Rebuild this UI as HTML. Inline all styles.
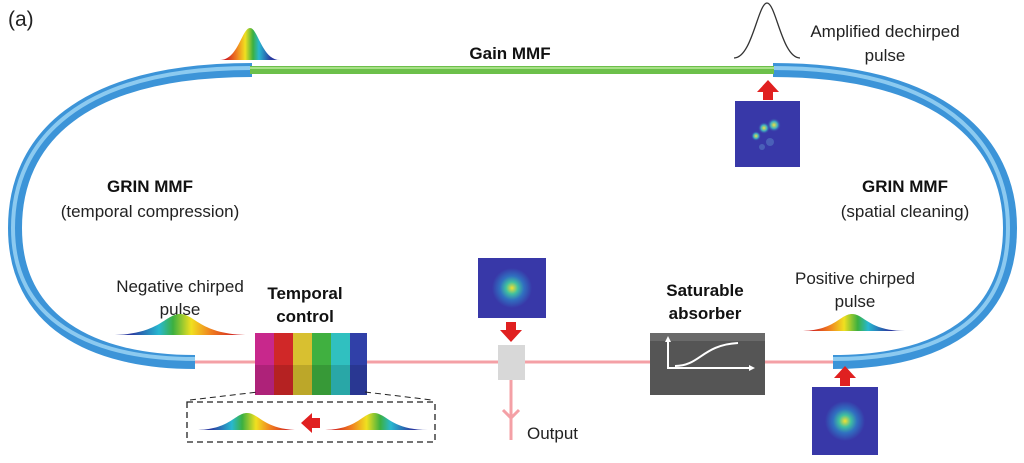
<!DOCTYPE html>
<html><head><meta charset="utf-8"><style>
html,body{margin:0;padding:0;background:#fff;}
svg{display:block;font-family:"Liberation Sans",sans-serif;}
</style></head><body>
<svg width="1024" height="463" viewBox="0 0 1024 463">
<defs>
<linearGradient id="neg" x1="0" x2="1" y1="0" y2="0">
<stop offset="0.15" stop-color="#2a3aa0"/><stop offset="0.35" stop-color="#28b8d0"/><stop offset="0.45" stop-color="#3cb040"/><stop offset="0.58" stop-color="#f0e020"/><stop offset="0.72" stop-color="#f08020"/><stop offset="0.9" stop-color="#d02020"/></linearGradient>
<linearGradient id="pos" x1="0" x2="1" y1="0" y2="0">
<stop offset="0.1" stop-color="#d02020"/><stop offset="0.28" stop-color="#f08020"/><stop offset="0.42" stop-color="#f0e020"/><stop offset="0.55" stop-color="#3cb040"/><stop offset="0.65" stop-color="#28b8d0"/><stop offset="0.85" stop-color="#2a3aa0"/></linearGradient>
<radialGradient id="mode"><stop offset="0" stop-color="#f5e030"/><stop offset="0.3" stop-color="#40c0a0"/><stop offset="0.6" stop-color="#3070c0"/><stop offset="1" stop-color="#3838a8"/></radialGradient>
<radialGradient id="spot"><stop offset="0" stop-color="#f0e040"/><stop offset="0.5" stop-color="#40b0c0"/><stop offset="1" stop-color="#3838a8" stop-opacity="0"/></radialGradient>
</defs>
<text x="8" y="26" font-size="21" fill="#222">(a)</text>
<g>
<path d="M252,70 C80,70 15,140 15,228 C15,320 90,362 195,362" fill="none" stroke="#3c94d8" stroke-width="14"/>
<path d="M252,68 C80,68 13,140 13,228 C13,320 90,359 195,359" fill="none" stroke="#8ccaf0" stroke-width="4"/>
<path d="M773,70 C940,70 1010,140 1010,228 C1010,320 940,362 833,362" fill="none" stroke="#3c94d8" stroke-width="14"/>
<path d="M773,68 C940,68 1008,140 1008,228 C1008,320 940,359 833,359" fill="none" stroke="#8ccaf0" stroke-width="4"/>
<rect x="250" y="66" width="524" height="8" fill="#6cc04a"/>
<rect x="250" y="67" width="524" height="2" fill="#a8e088"/>
</g>
<line x1="195" y1="362" x2="833" y2="362" stroke="#f4a0a6" stroke-width="3"/>
<line x1="511" y1="362" x2="511" y2="440" stroke="#f4a0a6" stroke-width="3"/>
<path d="M503,410 L511,418 L519,410" fill="none" stroke="#f4a0a6" stroke-width="3"/>
<text x="527" y="439" font-size="17" fill="#222">Output</text>
<rect x="498" y="345" width="27" height="35" fill="#d8d8d8"/>
<g>
<rect x="255" y="333" width="19" height="62" fill="#c8288c"/><rect x="274" y="333" width="19" height="62" fill="#d02828"/><rect x="293" y="333" width="19" height="62" fill="#d8c030"/><rect x="312" y="333" width="19" height="62" fill="#40b040"/><rect x="331" y="333" width="19" height="62" fill="#30c0c0"/><rect x="350" y="333" width="17" height="62" fill="#3040a8"/>
<rect x="255" y="365" width="112" height="30" fill="#000" opacity="0.13"/>
</g>
<text x="305" y="299" font-size="17" font-weight="bold" text-anchor="middle" fill="#111"><tspan x="305">Temporal</tspan><tspan x="305" dy="23">control</tspan></text>
<g>
<rect x="650" y="333" width="115" height="62" fill="#555"/><rect x="650" y="333" width="115" height="8" fill="#6a6a6a"/>
<path d="M668,339 L668,368 L752,368" fill="none" stroke="#fff" stroke-width="2"/>
<path d="M668,336 l-3,6 h6z M755,368 l-6,-3 v6z" fill="#fff"/>
<path d="M675,366 C700,366 702,345 738,343" fill="none" stroke="#fff" stroke-width="2"/>
</g>
<text x="705" y="296" font-size="17" font-weight="bold" text-anchor="middle" fill="#111"><tspan x="705">Saturable</tspan><tspan x="705" dy="23">absorber</tspan></text>
<text x="510" y="59" font-size="17" font-weight="bold" text-anchor="middle" fill="#111">Gain MMF</text>
<text x="150" y="192" font-size="17" font-weight="bold" text-anchor="middle" fill="#111">GRIN MMF</text>
<text x="150" y="217" font-size="17" text-anchor="middle" fill="#222">(temporal compression)</text>
<text x="905" y="192" font-size="17" font-weight="bold" text-anchor="middle" fill="#111">GRIN MMF</text>
<text x="905" y="217" font-size="17" text-anchor="middle" fill="#222">(spatial cleaning)</text>
<text x="885" y="37" font-size="17" text-anchor="middle" fill="#222"><tspan x="885">Amplified dechirped</tspan><tspan x="885" dy="24">pulse</tspan></text>
<text x="180" y="292" font-size="17" text-anchor="middle" fill="#222"><tspan x="180">Negative chirped</tspan><tspan x="180" dy="23">pulse</tspan></text>
<text x="855" y="284" font-size="17" text-anchor="middle" fill="#222"><tspan x="855">Positive chirped</tspan><tspan x="855" dy="23">pulse</tspan></text>
<path d="M734,58 C752,58 758,3 767,3 C776,3 782,58 800,58" fill="none" stroke="#333" stroke-width="1.3"/>
<path d="M220,60 C238,60 242,28 250,28 C258,28 262,60 280,60Z" fill="url(#pos)"/>
<path d="M110,335 C160,335 165,314 180,314 C195,314 200,335 250,335Z" fill="url(#neg)"/>
<path d="M800,331 C835,331 840,314 852,314 C864,314 869,331 905,331Z" fill="url(#pos)"/>
<g>
<rect x="187" y="402" width="248" height="40" fill="none" stroke="#222" stroke-width="1.3" stroke-dasharray="6,4"/>
<line x1="190" y1="400" x2="258" y2="392" stroke="#222" stroke-dasharray="6,4"/>
<line x1="365" y1="392" x2="432" y2="400" stroke="#222" stroke-dasharray="6,4"/>
<path d="M195,430 C230,430 235,413 247,413 C259,413 264,430 300,430Z" fill="url(#neg)"/>
<path d="M322,430 C358,430 362,413 374,413 C386,413 391,430 428,430Z" fill="url(#pos)"/>
<path d="M320,418 h-8 v-5 l-11,10 l11,10 v-5 h8z" fill="#e02020"/>
</g>
<g>
<rect x="478" y="258" width="68" height="60" fill="#3838a8"/><circle cx="512" cy="288" r="20" fill="url(#mode)"/>
<path d="M506,322 h10 v8 h6 l-11,12 l-11,-12 h6z" fill="#e02020"/></g>
<g>
<rect x="735" y="101" width="65" height="66" fill="#3838a8"/>
<circle cx="774" cy="125" r="7" fill="url(#spot)"/><circle cx="764" cy="128" r="6" fill="url(#spot)"/><circle cx="756" cy="136" r="5" fill="url(#spot)"/><circle cx="770" cy="142" r="4" fill="#4a60b8"/><circle cx="762" cy="147" r="3" fill="#4a60b8"/>
<path d="M763,100 h10 v-8 h6 l-11,-12 l-11,12 h6z" fill="#e02020"/></g>
<g>
<rect x="812" y="387" width="66" height="68" fill="#3838a8"/><circle cx="845" cy="421" r="20" fill="url(#mode)"/>
<path d="M840,386 h10 v-8 h6 l-11,-12 l-11,12 h6z" fill="#e02020"/></g>
</svg>
</body></html>
